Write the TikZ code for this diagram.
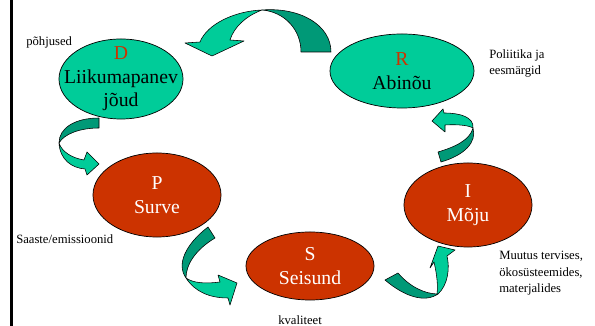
\documentclass[tikz,border=0pt]{standalone}
\usepackage{fontspec}
\setmainfont{Liberation Serif}
\usetikzlibrary{shapes.geometric}
\definecolor{lightgreen}{HTML}{00CC99}
\definecolor{darkgreen}{HTML}{009977}
\definecolor{brick}{HTML}{CC3300}
\tikzset{
  stage/.style={ellipse,draw=black,line width=0.5pt,inner sep=0pt},
  greenstage/.style={stage,fill=lightgreen},
  redstage/.style={stage,fill=brick},
  stagetext/.style={align=center,inner sep=0pt,font=\fontsize{14}{16.7}\selectfont},
  note/.style={anchor=west,align=left,inner sep=0pt,font=\fontsize{9}{11.8}\selectfont},
  lightband/.style={fill=lightgreen,draw=black,line width=0.4pt,line join=round},
  darkband/.style={fill=darkgreen,draw=black,line width=0.4pt,line join=round}
}
\begin{document}
\begin{tikzpicture}[x=0.025cm,y=-0.025cm]
  \useasboundingbox (0,0) rectangle (595,326);
  \draw[line width=1.5pt] (11.5,0) -- (11.5,326);
  % curved block arrows
  \begin{scope}
    \draw[darkband] (301,52) .. controls (301,30) and (285,12) .. (262,10)
      .. controls (300,7) and (331,25) .. (331,52) -- cycle;
    \draw[lightband] (262,10) .. controls (235,11) and (207,24) .. (200,42)
      -- (185,43) -- (212,56) -- (244,41) -- (230,40)
      .. controls (234,27) and (246,16) .. (262,10) -- cycle;
    \draw[darkband] (99,118) .. controls (75,118) and (59,128) .. (59,143)
      .. controls (64,134) and (80,128) .. (99,128) -- cycle;
    \draw[lightband] (59,143) .. controls (60,160) and (72,168) .. (85,169)
      -- (87,175) -- (99,164) -- (87,152) -- (84,160)
      .. controls (72,158) and (62,152) .. (59,143) -- cycle;
    \draw[darkband] (208,227) .. controls (186,244) and (176,264) .. (186,278)
      .. controls (186,265) and (195,250) .. (215,238) -- cycle;
    \draw[lightband] (186,278) .. controls (195,292) and (210,298) .. (228,298)
      -- (230,305) -- (237,283) -- (218,275) -- (220,282)
      .. controls (205,284) and (193,283) .. (186,278) -- cycle;
    \draw[darkband] (385,280) .. controls (405,297) and (425,303) .. (438,294)
      .. controls (425,294) and (410,287) .. (398,273) -- cycle;
    \draw[lightband] (438,294) .. controls (448,285) and (450,268) .. (447,256)
      -- (455,250) -- (438,246) -- (430,268) -- (434,262)
      .. controls (437,275) and (438,285) .. (437,294) -- cycle;
    \draw[darkband] (438,152) .. controls (455,147) and (470,140) .. (473,128)
      .. controls (477,142) and (465,155) .. (441,162) -- cycle;
    \draw[lightband] (473,128) .. controls (474,117) and (460,113) .. (444,113)
      -- (443,109) -- (432,121) -- (445,132) -- (445,125)
      .. controls (460,124) and (470,126) .. (473,128) -- cycle;
  \end{scope}
  % stages
  \node[greenstage,minimum width=3.1cm,minimum height=2cm] (D) at (121,79) {};
  \node[greenstage,minimum width=3.6cm,minimum height=1.85cm] (R) at (402,71) {};
  \node[redstage,minimum width=3.2cm,minimum height=2.1cm] (P) at (157,195) {};
  \node[redstage,minimum width=3.2cm,minimum height=1.7cm] (S) at (310,266) {};
  \node[redstage,minimum width=3.2cm,minimum height=2.1cm] (I) at (468,205) {};
  \node[stagetext] (Dt) at (D.center) {\textcolor{brick}{D}\\Liikumapanev\\jõud};
  \node[stagetext] (Rt) at (R.center) {\textcolor{brick}{R}\\Abinõu};
  \node[stagetext,text=white] (Pt) at (P.center) {P\\Surve};
  \node[stagetext,text=white] (St) at (S.center) {S\\Seisund};
  \node[stagetext,text=white] (It) at (I.center) {I\\Mõju};
  % notes
  \node[note] (causes) at (26,42) {põhjused};
  \node[note] (policy) at (489,63.5) {Poliitika ja\\eesmärgid};
  \node[note] (emissions) at (16,239) {Saaste/emissioonid};
  \node[note] (quality) at (278,320) {kvaliteet};
  \node[note] (change) at (499,273.5) {Muutus tervises,\\ökosüsteemides,\\materjalides};
\end{tikzpicture}
\end{document}
